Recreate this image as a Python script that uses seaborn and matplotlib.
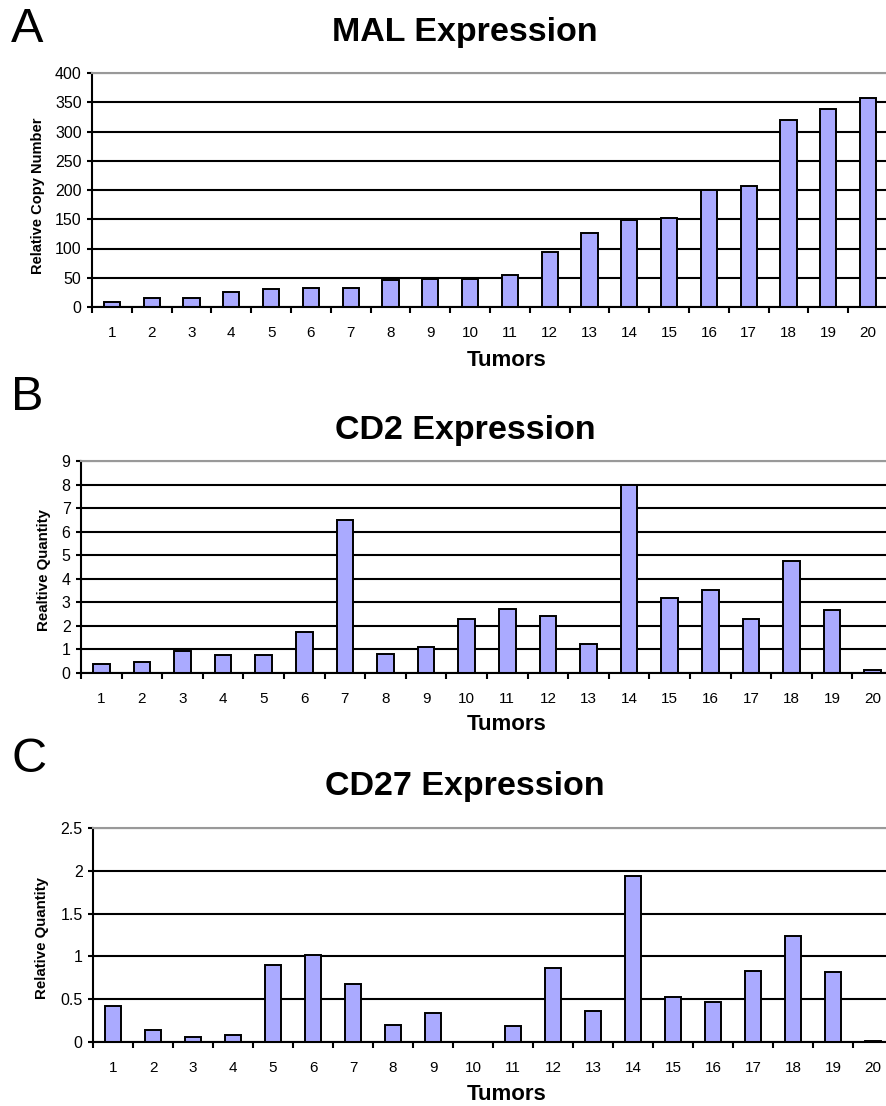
import numpy as np
import pandas as pd
import matplotlib
matplotlib.use("Agg")
import matplotlib.pyplot as plt
import seaborn as sns
from matplotlib.ticker import MultipleLocator, FormatStrFormatter

# dados
tumores = [str(i) for i in range(1, 21)]
mal = [8, 15, 16, 25, 30, 32, 33, 47, 48, 48, 54, 94, 126, 149, 152, 200, 207, 320, 339, 358]
cd2 = [0.37, 0.45, 0.95, 0.78, 0.78, 1.73, 6.49, 0.81, 1.09, 2.28,
       2.70, 2.43, 1.22, 7.96, 3.18, 3.54, 2.29, 4.75, 2.69, 0.13]
cd27 = [0.42, 0.14, 0.055, 0.08, 0.90, 1.016, 0.68, 0.20, 0.34, 0.0,
        0.19, 0.86, 0.36, 1.94, 0.53, 0.47, 0.83, 1.24, 0.82, 0.01]

sns.set_style("white")
plt.rcParams["font.family"] = ["Liberation Sans", "DejaVu Sans"]
plt.rcParams["text.color"] = "black"
plt.rcParams["xtick.color"] = "black"
plt.rcParams["ytick.color"] = "black"
plt.rcParams["axes.labelcolor"] = "black"

W, H = 886, 1106
fig = plt.figure(figsize=(W / 100, H / 100), dpi=100)


def caixa(esq, topo, dir, base):
    return [esq / W, 1 - base / H, (dir - esq) / W, (base - topo) / H]


paineis = [
    dict(letra="A", titulo="MAL Expression", valores=mal, ylabel="Relative Copy Number",
         box=(92, 73, 888, 307), ymax=400, passo=50, fmt="%d", ylab_fs=10.5,
         y_letra=30, y_tit=32, y_tick=333, y_tum=360, x_ylab=38, y_ylab=196),
    dict(letra="B", titulo="CD2 Expression", valores=cd2, ylabel="Realtive Quantity",
         box=(81, 461, 893, 673), ymax=9, passo=1, fmt="%d", ylab_fs=10.8,
         y_letra=397, y_tit=430, y_tick=699, y_tum=725, x_ylab=44, y_ylab=570),
    dict(letra="C", titulo="CD27 Expression", valores=cd27, ylabel="Relative Quantity",
         box=(93, 828, 893, 1042), ymax=2.5, passo=0.5, fmt="%g", ylab_fs=10.8,
         y_letra=760, y_tit=787, y_tick=1068, y_tum=1095, x_ylab=42, y_ylab=938),
]

for p in paineis:
    ax = fig.add_axes(caixa(*p["box"]))
    df = pd.DataFrame({"Tumor": tumores, "Valor": p["valores"]})
    sns.barplot(data=df, x="Tumor", y="Valor", ax=ax, color="#AAAAFF",
                width=0.41, edgecolor="black", linewidth=1.4, saturation=1)
    ax.set_xlim(-0.5, 19.5)
    ax.set_ylim(0, p["ymax"])
    ax.yaxis.set_major_locator(MultipleLocator(p["passo"]))
    ax.yaxis.set_major_formatter(FormatStrFormatter(p["fmt"]))
    ax.set_axisbelow(True)
    ax.yaxis.grid(True, color="black", linewidth=1.5)
    ax.xaxis.grid(False)

    ax.spines["right"].set_visible(False)
    ax.spines["top"].set_color("#999999")
    ax.spines["top"].set_linewidth(1.5)
    for lado in ["left", "bottom"]:
        ax.spines[lado].set_linewidth(1.5)
        ax.spines[lado].set_color("black")

    ax.set_xlabel("")
    ax.set_ylabel("")
    ax.tick_params(axis="y", which="major", direction="out", length=3.5, width=1.5,
                   labelsize=11.5, pad=4, left=True)
    ax.tick_params(axis="x", which="major", length=0, labelsize=11,
                   pad=(p["y_tick"] - p["box"][3]) * 0.72 - 5)
    ax.set_xticks(np.arange(-0.5, 19.6, 1), minor=True)
    ax.tick_params(axis="x", which="minor", direction="out", length=4, width=1.5, bottom=True)

    fig.text(11 / W, 1 - p["y_letra"] / H, p["letra"], fontsize=35, ha="left", va="center")
    fig.text(465 / W, 1 - p["y_tit"] / H, p["titulo"], fontsize=24.5, fontweight="bold",
             ha="center", va="center")
    fig.text(507 / W, 1 - p["y_tum"] / H, "Tumors", fontsize=16, fontweight="bold",
             ha="center", va="center")
    fig.text(p["x_ylab"] / W, 1 - p["y_ylab"] / H, p["ylabel"], fontsize=p["ylab_fs"],
             fontweight="bold", rotation=90, ha="center", va="center")

plt.savefig("out.png", dpi=100)
